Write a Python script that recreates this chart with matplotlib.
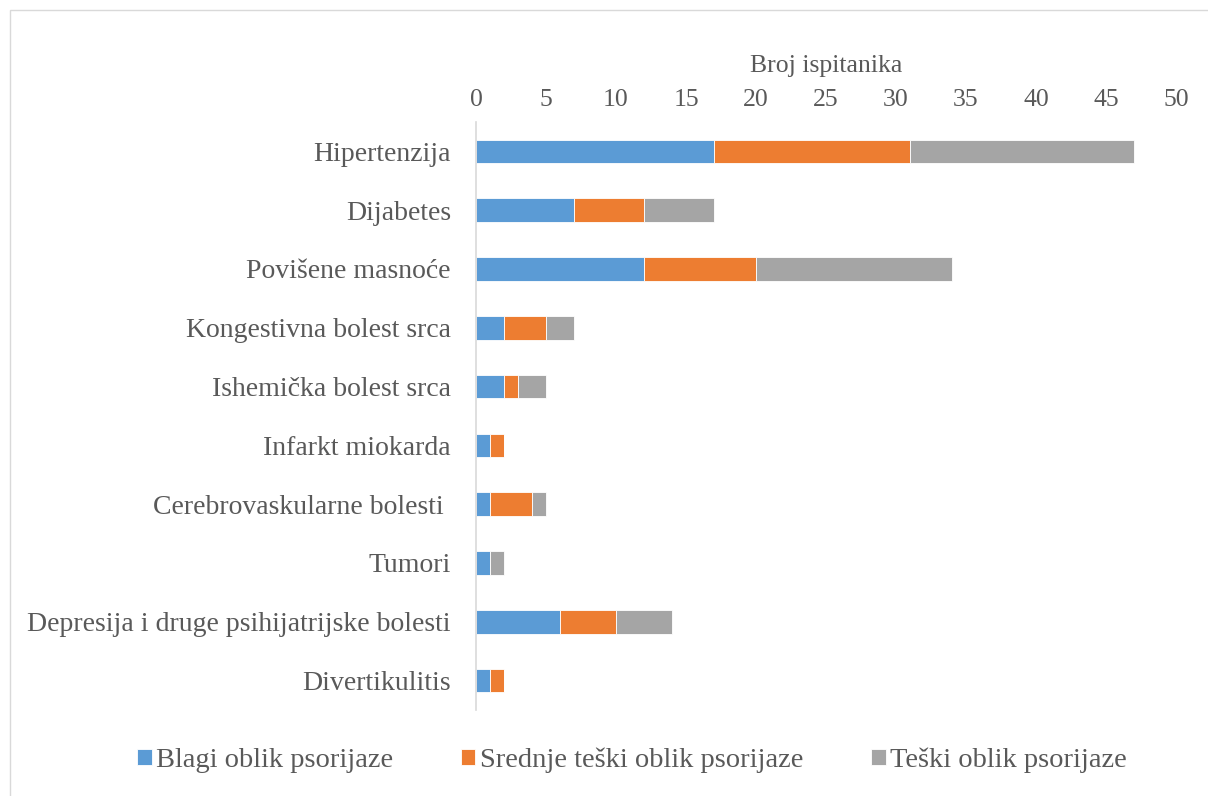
import matplotlib.pyplot as plt
from matplotlib.patches import Rectangle

categories = ['Hipertenzija', 'Dijabetes', 'Povišene masnoće', 'Kongestivna bolest srca',
              'Ishemička bolest srca', 'Infarkt miokarda', 'Cerebrovaskularne bolesti ',
              'Tumori', 'Depresija i druge psihijatrijske bolesti', 'Divertikulitis']
blagi = [17, 7, 12, 2, 2, 1, 1, 1, 6, 1]
srednje = [14, 5, 8, 3, 1, 1, 3, 0, 4, 1]
teski = [16, 5, 14, 2, 2, 0, 1, 1, 4, 0]
series_names = ['Blagi oblik psorijaze', 'Srednje teški oblik psorijaze', 'Teški oblik psorijaze']
colors = ['#5b9bd5', '#ed7d31', '#a5a5a5']
xticks = list(range(0, 55, 5))

plt.rcParams['font.family'] = ['Liberation Serif', 'DejaVu Serif']
txt = '#595959'

fig = plt.figure(figsize=(12.08, 7.96), dpi=100)
ax = fig.add_axes([476 / 1208, 1 - 710 / 796, 700 / 1208, 588 / 796])

# outer chart frame (cut off at right/bottom like the reference)
fig.patches.append(Rectangle((10 / 1208, -0.01), 1.1, (796 - 10) / 796 + 0.01,
                             transform=fig.transFigure, fill=False,
                             edgecolor='#d9d9d9', linewidth=1))

y = range(len(categories))
left = [0] * len(categories)
for vals, name, c in zip([blagi, srednje, teski], series_names, colors):
    ax.barh(y, vals, left=left, height=0.4, color=c, label=name,
            edgecolor='white', linewidth=0.6)
    left = [a + b for a, b in zip(left, vals)]

ax.set_ylim(len(categories) - 0.5, -0.5)
ax.set_xlim(0, 50)
ax.set_yticks(list(y))
ax.set_yticklabels(categories, fontsize=20, color=txt)
ax.set_xticks(xticks)
ax.set_xticklabels([str(t) for t in xticks], fontsize=18.5, color=txt)
ax.xaxis.tick_top()
ax.xaxis.set_label_position('top')
ax.set_xlabel('Broj ispitanika', fontsize=18.5, color=txt, labelpad=12)
ax.tick_params(axis='both', length=0)
ax.tick_params(axis='x', pad=8)
ax.tick_params(axis='y', pad=18)

for s in ['top', 'right', 'bottom']:
    ax.spines[s].set_visible(False)
ax.spines['left'].set_color('#d9d9d9')
ax.spines['left'].set_linewidth(1.2)

fig.legend(loc='center', bbox_to_anchor=(632 / 1208, 1 - 760 / 796), ncol=3,
           frameon=False, fontsize=20.5, labelcolor=txt, handlelength=0.5,
           handleheight=0.5, handletextpad=0.15, columnspacing=2.4)

fig.savefig('out.png', dpi=100)
